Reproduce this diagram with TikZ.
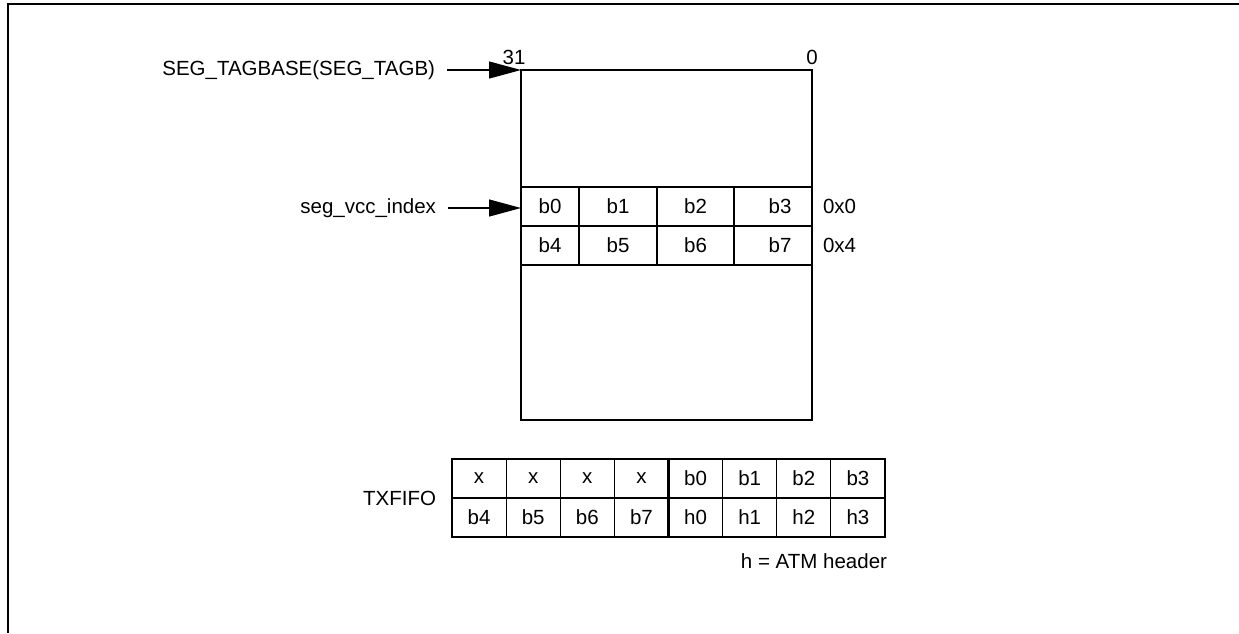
\documentclass[tikz,border=0pt]{standalone}
\usepackage{fontspec}
\setmainfont{Liberation Sans}
\usetikzlibrary{arrows.meta}
\begin{document}
\begin{tikzpicture}[x=1pt,y=-1pt,
  every node/.style={font=\fontsize{20.5}{24}\selectfont, inner sep=0pt, outer sep=0pt},
  frameline/.style={line width=1.9pt},
  boxline/.style={line width=2.8pt},
  cell/.style={draw, line width=1.2pt, minimum height=39pt, anchor=north west},
  ptr/.style={line width=1.2pt, -{Triangle[length=32pt,width=17pt]}, shorten <=12pt}
]
\useasboundingbox (0,0) rectangle (1239,633);
% frame
\coordinate (ftl) at (8,4);
\coordinate (ftr) at (1239,4);
\coordinate (fbl) at (8,633);
\draw[frameline] (ftr) -- (ftl) -- (fbl);

% memory rows
\node[cell, minimum width=58] (m00) at (521,187) {b0};
\node[cell, minimum width=78] (m01) at (579,187) {b1};
\node[cell, minimum width=77] (m02) at (657,187) {b2};
\node[cell, minimum width=78] (m03) at (734,187) {\hspace*{14pt}b3};
\node[cell, minimum width=58] (m10) at (521,226) {b4};
\node[cell, minimum width=78] (m11) at (579,226) {b5};
\node[cell, minimum width=77] (m12) at (657,226) {b6};
\node[cell, minimum width=78] (m13) at (734,226) {\hspace*{14pt}b7};

% memory box
\node[draw, boxline, minimum width=291, minimum height=350, anchor=north west] (mem) at (521,70) {};

\node[anchor=base] (bit31) at (514,64) {31};
\node[anchor=base] (bit0) at (812,64) {0};
\node[anchor=base west] (off0) at (823,213) {0x0};
\node[anchor=base west] (off4) at (823,252) {0x4};

% pointers
\node[anchor=east] (tagbase) at (435,70) {SEG\_TAGBASE(SEG\_TAGB)};
\draw[ptr] (tagbase.east) -- (mem.north west);
\node[anchor=base east] (vcc) at (436,213) {seg\_vcc\_index};
\coordinate (vcctip) at (521,208);
\draw[ptr] (vcc.east |- vcctip) -- (vcctip);

% TXFIFO
\foreach \t [count=\i from 0] in {x,x,x,x,b0,b1,b2,b3}
  \node[cell, minimum width=54.125] (fa\i) at ({452+54.125*\i},459) {\t};
\foreach \t [count=\i from 0] in {b4,b5,b6,b7,h0,h1,h2,h3}
  \node[cell, minimum width=54.125] (fb\i) at ({452+54.125*\i},498) {\t};
\node[draw, boxline, minimum width=433, minimum height=78, anchor=north west] (fifo) at (452,459) {};
\draw[boxline] (fifo.north) -- (fifo.south);
\node[anchor=east] (txfifo) at (436,498) {TXFIFO};
\node[anchor=base east] (hdr) at (887,568) {h = ATM header};
\end{tikzpicture}
\end{document}
